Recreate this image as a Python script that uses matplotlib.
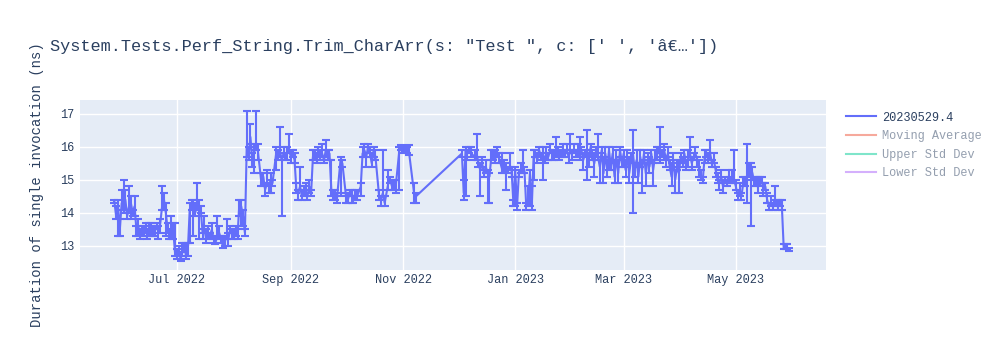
import matplotlib
matplotlib.use("Agg")
import matplotlib.pyplot as plt
import matplotlib.dates as mdates
from matplotlib.lines import Line2D
from matplotlib.font_manager import FontProperties
import pandas as pd

# ---------------- data ----------------
dates = [
    # late May - mid June 2022
    "2022-05-28", "2022-05-29", "2022-05-30", "2022-05-31", "2022-06-01", "2022-06-02", "2022-06-03",
    "2022-06-04", "2022-06-05", "2022-06-06", "2022-06-07", "2022-06-08", "2022-06-09", "2022-06-10",
    "2022-06-11",
    "2022-06-12", "2022-06-13", "2022-06-14", "2022-06-15", "2022-06-16", "2022-06-17", "2022-06-18",
    "2022-06-19", "2022-06-20", "2022-06-21", "2022-06-22", "2022-06-23", "2022-06-24", "2022-06-25",
    "2022-06-26", "2022-06-27", "2022-06-28", "2022-06-29", "2022-06-30",
    "2022-07-01", "2022-07-02", "2022-07-03", "2022-07-04", "2022-07-05", "2022-07-06", "2022-07-07",
    "2022-07-08", "2022-07-09", "2022-07-10", "2022-07-11", "2022-07-12", "2022-07-13", "2022-07-14",
    "2022-07-15", "2022-07-16", "2022-07-17", "2022-07-18", "2022-07-19", "2022-07-20", "2022-07-21",
    "2022-07-22", "2022-07-23", "2022-07-24", "2022-07-25", "2022-07-26", "2022-07-27", "2022-07-28",
    "2022-07-29", "2022-07-30", "2022-07-31", "2022-08-01", "2022-08-02", "2022-08-03", "2022-08-04",
    "2022-08-05", "2022-08-06", "2022-08-07",
    "2022-08-08", "2022-08-09", "2022-08-10", "2022-08-11", "2022-08-12", "2022-08-13", "2022-08-14",
    "2022-08-16", "2022-08-17", "2022-08-18", "2022-08-19", "2022-08-20", "2022-08-21", "2022-08-22",
    "2022-08-24", "2022-08-25", "2022-08-26", "2022-08-27", "2022-08-28", "2022-08-29", "2022-08-30",
    "2022-08-31", "2022-09-01", "2022-09-02", "2022-09-03", "2022-09-04", "2022-09-05", "2022-09-06",
    "2022-09-07", "2022-09-08", "2022-09-09", "2022-09-10", "2022-09-11", "2022-09-12",
    "2022-09-13", "2022-09-14", "2022-09-15", "2022-09-16", "2022-09-17", "2022-09-18", "2022-09-19",
    "2022-09-20", "2022-09-21", "2022-09-22", "2022-09-23", "2022-09-24", "2022-09-25", "2022-09-26",
    "2022-09-28", "2022-09-29",
    "2022-10-01", "2022-10-02", "2022-10-03", "2022-10-04", "2022-10-05", "2022-10-06", "2022-10-07",
    "2022-10-09", "2022-10-10", "2022-10-11", "2022-10-12", "2022-10-13", "2022-10-14", "2022-10-15",
    "2022-10-16", "2022-10-17",
    "2022-10-19", "2022-10-20", "2022-10-21", "2022-10-22",
    "2022-10-24", "2022-10-25", "2022-10-26", "2022-10-27", "2022-10-28",
    "2022-10-30", "2022-10-31",
    "2022-11-01", "2022-11-02", "2022-11-03", "2022-11-04",
    "2022-11-07", "2022-11-08",
    # December 2022 - January 2023
    "2022-12-03", "2022-12-04", "2022-12-05", "2022-12-06", "2022-12-07", "2022-12-08",
    "2022-12-10", "2022-12-11", "2022-12-12", "2022-12-13", "2022-12-14", "2022-12-15", "2022-12-16",
    "2022-12-17", "2022-12-18", "2022-12-19", "2022-12-20", "2022-12-21", "2022-12-22", "2022-12-23",
    "2022-12-25", "2022-12-26", "2022-12-27", "2022-12-28", "2022-12-29", "2022-12-30", "2022-12-31",
    "2023-01-01", "2023-01-02", "2023-01-03", "2023-01-04", "2023-01-05", "2023-01-06", "2023-01-07",
    "2023-01-08", "2023-01-09", "2023-01-10", "2023-01-11", "2023-01-12", "2023-01-13", "2023-01-14",
    "2023-01-15", "2023-01-16", "2023-01-17", "2023-01-18", "2023-01-19", "2023-01-20", "2023-01-21",
    "2023-01-22", "2023-01-23", "2023-01-24", "2023-01-25", "2023-01-26", "2023-01-27", "2023-01-28",
    "2023-01-29", "2023-01-30", "2023-01-31",
    # February - March 2023
    "2023-02-01", "2023-02-02", "2023-02-03", "2023-02-04", "2023-02-05", "2023-02-06", "2023-02-07",
    "2023-02-08", "2023-02-09", "2023-02-10", "2023-02-11", "2023-02-12", "2023-02-13", "2023-02-14",
    "2023-02-15", "2023-02-16", "2023-02-17", "2023-02-18", "2023-02-19", "2023-02-20", "2023-02-21",
    "2023-02-22", "2023-02-23", "2023-02-24", "2023-02-25", "2023-02-26", "2023-02-27", "2023-02-28",
    "2023-03-01", "2023-03-02", "2023-03-03", "2023-03-04", "2023-03-05", "2023-03-06", "2023-03-07",
    "2023-03-08", "2023-03-09", "2023-03-10", "2023-03-11", "2023-03-12", "2023-03-13", "2023-03-14",
    "2023-03-15", "2023-03-16", "2023-03-17", "2023-03-18", "2023-03-19", "2023-03-20", "2023-03-21",
    "2023-03-22", "2023-03-23", "2023-03-24", "2023-03-25", "2023-03-26", "2023-03-27", "2023-03-28",
    "2023-03-29", "2023-03-30", "2023-03-31",
    # April - May 2023
    "2023-04-01", "2023-04-02", "2023-04-03", "2023-04-04", "2023-04-05", "2023-04-06", "2023-04-07",
    "2023-04-08", "2023-04-09", "2023-04-10", "2023-04-11", "2023-04-12", "2023-04-13", "2023-04-14",
    "2023-04-15", "2023-04-16", "2023-04-17", "2023-04-18", "2023-04-19", "2023-04-20", "2023-04-21",
    "2023-04-22", "2023-04-23", "2023-04-24", "2023-04-25", "2023-04-26", "2023-04-27", "2023-04-28",
    "2023-04-29", "2023-04-30",
    "2023-05-01", "2023-05-02", "2023-05-03", "2023-05-04", "2023-05-05", "2023-05-06", "2023-05-07",
    "2023-05-08", "2023-05-09", "2023-05-10", "2023-05-11", "2023-05-12", "2023-05-13", "2023-05-14",
    "2023-05-15", "2023-05-16", "2023-05-17", "2023-05-18", "2023-05-19", "2023-05-20", "2023-05-21",
    "2023-05-22", "2023-05-23", "2023-05-24", "2023-05-25", "2023-05-26", "2023-05-27", "2023-05-28",
    "2023-05-29", "2023-05-30",
]

values = [
    14.35, 13.9, 14.2, 13.5, 14.3, 14.1, 14.4, 13.9, 14.2, 14.3, 14.0, 14.2, 13.5, 13.6, 13.3,
    13.5, 13.4, 13.6, 13.3, 13.5, 13.6, 13.4, 13.5, 13.6, 13.4, 13.7, 14.2, 14.4, 14.0, 13.5, 13.4, 13.3, 13.5, 12.8,
    12.7, 12.9, 12.6, 12.8, 13.0, 12.7, 12.9, 14.1, 14.3, 14.2, 14.0, 14.3, 14.2, 14.1,
    13.4, 13.5, 13.2, 13.4, 13.3, 13.5, 13.2, 13.1, 13.3, 13.4, 13.2, 13.0, 13.1, 13.3, 13.2, 13.5,
    13.4, 13.3, 13.5, 13.3, 14.3, 14.2, 13.9, 13.4,
    16.0, 15.7, 16.3, 15.6, 15.8, 16.1, 15.9, 14.9, 15.1, 14.7, 14.9, 14.8, 15.0, 14.9,
    15.8, 15.7, 15.9, 15.6, 15.8, 15.7, 15.8, 15.9, 15.7, 15.8, 15.6, 14.7, 14.6, 14.8, 14.5, 14.7,
    14.6, 14.5, 14.8, 14.6,
    15.7, 15.8, 15.6, 15.9, 15.7, 15.8, 15.6, 15.9, 15.7, 15.8, 14.7, 14.5, 14.6, 14.4,
    15.6, 15.5,
    14.5, 14.4, 14.6, 14.5, 14.4, 14.6, 14.5,
    14.8, 15.8, 15.9, 15.7, 16.0, 15.8, 15.5, 15.9, 15.7,
    14.5, 14.4, 14.6, 14.3,
    14.9, 15.0, 14.8, 14.9, 14.8,
    15.9, 16.0,
    15.9, 15.95, 15.9, 15.95,
    14.6, 14.5,
    15.8, 14.6, 15.9, 15.8, 15.9, 15.8,
    15.7, 15.8, 15.5, 15.3, 15.5, 15.2, 15.4, 15.2, 15.1, 15.7, 15.8, 15.6, 15.8, 15.7,
    15.3, 15.4, 15.2, 15.3, 15.4, 15.3, 14.3,
    15.3, 14.2, 15.2, 15.3, 15.4, 15.3, 14.2, 14.3, 15.2, 14.2, 15.7, 15.8, 15.6, 15.9, 15.7, 15.8,
    15.6, 15.8, 15.7, 15.9, 15.8, 15.7, 15.8, 15.9, 15.7, 15.8, 15.9, 15.8, 15.9, 15.7, 15.9,
    15.8, 15.9, 15.8, 15.9, 15.7, 15.9, 15.6, 15.8, 15.9, 15.6, 16.0, 15.7, 15.5, 15.9, 15.7, 15.4,
    15.9, 15.2, 15.8, 15.3, 15.9, 15.4, 15.8, 15.1, 15.7, 15.2, 15.9, 15.5,
    15.8, 15.3, 15.7, 15.2, 15.6, 15.8, 15.3, 15.6, 15.1, 15.7, 15.3, 15.8, 15.2, 15.6, 15.4, 15.8,
    15.3, 15.7, 15.8, 15.9, 15.7, 15.8, 15.9, 15.6, 15.8, 15.4, 15.1, 15.6, 15.0, 15.4, 15.2,
    15.7, 15.5, 15.8, 15.4, 15.6, 15.8, 15.5, 15.7, 15.8, 15.6, 15.4, 15.1, 15.0, 15.7, 15.8, 15.6,
    15.8, 15.5, 15.6, 15.3, 15.0, 14.9, 15.1, 14.8, 15.0, 14.9, 15.1, 15.0, 15.1, 15.0,
    14.8, 14.5, 14.7, 14.5, 14.9, 15.0, 15.1, 15.3, 15.4, 15.2, 14.9, 15.0, 14.8, 14.9, 15.0, 14.7,
    14.8, 14.4, 14.2, 14.3, 14.2, 14.4, 14.3, 14.2, 14.3, 14.2, 12.95, 13.0, 12.95, 12.9,
]

err_plus = [
    .05, .3, .2, .3, .4, .9, .3, .2, .6, .2, .1, .3, .1, .2, .2,
    .1, .2, .1, .2, .2, .1, .2, .1, .1, .2, .1, .6, .2, .3, .2, .1, .6, .2, .9,
    .2, .1, .2, .3, .1, .4, .2, .2, .1, .2, .3, .6, .2, .1,
    .1, .4, .3, .2, .1, .2, .1, .2, .6, .2, .1, .3, .2, .5, .2, .1,
    .1, .2, .1, .2, .1, .2, .2, .1,
    1.1, .3, .4, .2, .3, 1.0, .2, .3, .1, .2, .4, .1, .2, .1,
    .2, .2, .7, .1, .2, .1, .2, .5, .2, .1, .2, .2, .1, .6, .2, .1,
    .3, .1, .2, .1,
    .2, .1, .2, .1, .2, .3, .1, .3, .2, .1, .9, .2, .1, .2,
    .1, .1,
    .1, .2, .1, .2, .1, .1, .2,
    .1, .2, .2, .1, .1, .2, .3, .1, .2,
    .2, .1, 1.3, .2,
    .4, .1, .2, .1, .2,
    .1, .05,
    .1, .05, .1, .1,
    .3, .1,
    .1, .4, .1, .1, .1, .2,
    .2, .6, .1, .2, .2, .1, .2, .1, .1, .2, .1, .3, .2, .1,
    .5, .2, .3, .1, .4, .1, .1,
    .1, .1, .1, .2, .5, .1, .1, .5, .1, .6, .2, .1, .2, .1, .1, .2,
    .1, .2, .1, .2, .1, .2, .5, .1, .2, .1, .2, .1, .2, .1, .5,
    .1, .2, .1, .2, .6, .1, .2, .1, .6, .2, .1, .2, .3, .1, .7, .2,
    .1, .5, .2, .3, .1, .2, .2, .5, .2, .4, .1, .2,
    .1, .3, .2, .5, .2, .7, .2, .3, .4, .2, .2, .1, .3, .2, .3, .1,
    .2, .2, .2, .1, .9, .1, .2, .1, .2, .2, .4, .2, .3, .2, .4,
    .1, .2, .1, .2, .3, .5, .2, .1, .2, .1, .2, .2, .1, .2, .1, .2,
    .4, .1, .2, .1, .2, .1, .2, .2, .1, .1, .2, .1, .2, .9,
    .2, .1, .2, .1, .2, .1, 1.0, .2, .1, .2, .2, .1, .3, .2, .1, .2,
    .1, .2, .1, .2, .1, .4, .1, .2, .1, .2, .1, .05, .1, .05,
]

err_minus = [
    .05, .1, .9, .2, .2, .1, .3, .1, .2, .5, .1, .3, .2, .3, .1,
    .2, .1, .2, .1, .2, .3, .1, .2, .1, .2, .3, .1, .3, .7, .1, .2, .1, .3, .1,
    .1, .2, .05, .1, .2, .1, .2, 1.0, .2, .9, .1, .2, 1.0, .1,
    .2, .1, .1, .2, .1, .3, .1, .05, .1, .2, .1, .05, .1, .1, .2, .1,
    .2, .1, .2, .1, .4, .6, .3, .1,
    .3, .1, .2, .2, .6, .2, .3, .1, .3, .2, .1, .2, .4, .1,
    .5, .1, .2, 1.7, .1, .1, .2, .1, .2, .1, .1, .1, .2, .1, .1, .2,
    .1, .1, .2, .1,
    .1, .2, .1, .2, .1, .1, .1, .2, .1, .2, .2, .1, .2, .1,
    1.1, .1,
    .2, .1, .1, .2, .1, .2, .1,
    .3, .1, .2, .3, .2, .1, .1, .2, .1,
    .1, .2, .1, .1,
    .2, .1, .1, .2, .2,
    1.2, .1,
    .1, .1, .1, .2,
    .3, .2,
    .1, .2, 1.4, .2, .1, .1,
    .1, .2, .1, .8, .1, .1, .2, .9, .8, .1, .2, .1, .1, .2,
    .1, .2, .5, .1, .1, .2, .1,
    1.1, .1, .1, .1, .2, .1, .1, .1, 1.0, .1, .7, .1, .1, .2, .1, .8,
    .1, .2, .1, .1, .2, .1, .1, .2, .1, .1, .2, .1, .1, .2, .1,
    .2, .1, .1, .2, .1, .1, .3, .1, .9, .2, .3, .1, .4, .2, .1, .5,
    .1, .3, .1, .2, .6, .1, .3, .2, .1, .3, .2, .1,
    .4, .2, .1, .3, .1, 1.8, .2, .1, .2, .3, .7, .2, .4, .1, .2, .3,
    .5, .1, .2, .1, .2, .1, .3, .2, .1, .1, .3, .2, .4, .1, .6,
    .2, .1, .3, .1, .2, .1, .2, .1, .1, .2, .3, .1, .1, .2, .1, .1,
    .2, .1, .1, .2, .1, .2, .1, .2, .1, .1, .2, .1, .2, .1,
    .1, .1, .2, .1, .1, .2, .8, .2, 1.8, .2, .1, .2, .2, .1, .1, .2,
    .1, .1, .1, .1, .1, .2, .1, .1, .1, .1, .05, .1, .05, .05,
]

assert len(dates) == len(values) == len(err_plus) == len(err_minus), (
    len(dates), len(values), len(err_plus), len(err_minus))

title = 'System.Tests.Perf_String.Trim_CharArr(s: "Test ", c: [\' \', \'â€…\'])'
y_label = "Duration of single invocation (ns)"
legend_labels = ["20230529.4", "Moving Average", "Upper Std Dev", "Lower Std Dev"]
y_ticks = [13, 14, 15, 16, 17]
x_range = ["2022-05-09 08:00", "2023-06-19"]
y_range = [12.27, 17.42]

# ---------------- style ----------------
MONO = "Liberation Mono"
plt.rcParams["font.family"] = [MONO, "DejaVu Sans Mono", "DejaVu Sans"]
TXT = "#2a3f5f"
BLUE = "#636efa"

fig = plt.figure(figsize=(10, 3.5), dpi=100)
ax = fig.add_axes([0.080, 0.2286, 0.746, 0.4857])
ax.set_facecolor("#e5ecf6")

x = pd.to_datetime(dates)
ax.errorbar(x, values, yerr=[err_minus, err_plus], fmt="-", color=BLUE,
            lw=1.5, elinewidth=1.5, capsize=3, capthick=1.5, zorder=3)

ax.set_xlim(pd.Timestamp(x_range[0]), pd.Timestamp(x_range[1]))
ax.set_ylim(*y_range)
ax.set_yticks(y_ticks)
ax.xaxis.set_major_locator(mdates.MonthLocator(bymonth=[1, 3, 5, 7, 9, 11]))
ax.xaxis.set_major_formatter(mdates.DateFormatter("%b %Y"))
ax.grid(True, color="white", lw=1.0)
ax.set_axisbelow(True)
for s in ax.spines.values():
    s.set_visible(False)
ax.tick_params(axis="both", length=0, labelsize=8.6, labelcolor=TXT)
ax.tick_params(axis="x", pad=3)
ax.tick_params(axis="y", pad=4)

fig.text(0.050, 1 - 46 / 350, title, fontsize=12.2, color=TXT, va="center", ha="left")
fig.text(0.037, 0.4714, y_label, fontsize=10, color=TXT, rotation=90,
         va="center", ha="center")

handles = [
    Line2D([], [], color=BLUE, lw=1.5),
    Line2D([], [], color="#EF553B", lw=1.5, alpha=0.5),
    Line2D([], [], color="#00cc96", lw=1.5, alpha=0.5),
    Line2D([], [], color="#ab63fa", lw=1.5, alpha=0.5),
]
leg = fig.legend(handles, legend_labels, loc="upper left", bbox_to_anchor=(0.846, 0.681),
                 frameon=False, prop=FontProperties(family=MONO, size=8.6),
                 handlelength=2.5, handletextpad=0.5, labelspacing=0.55,
                 borderaxespad=0, borderpad=0)
for i, t in enumerate(leg.get_texts()):
    t.set_color(TXT)
    if i > 0:
        t.set_alpha(0.5)

fig.savefig("out.png", dpi=100)
